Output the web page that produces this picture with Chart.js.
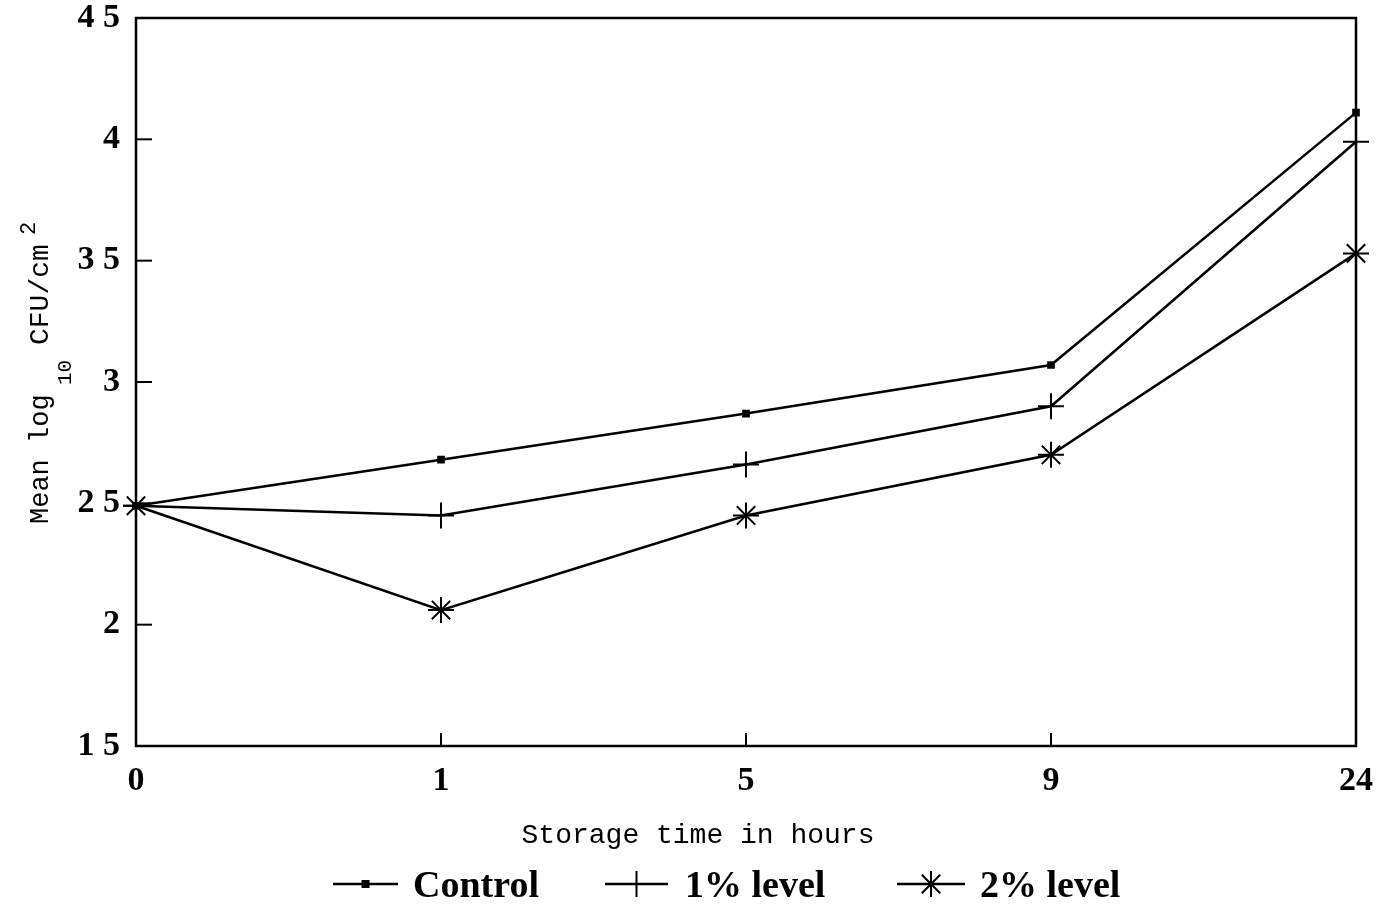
<!DOCTYPE html>
<html>
<head>
<meta charset="utf-8">
<script src="https://cdn.jsdelivr.net/npm/chart.js@4.4.1/dist/chart.umd.min.js"></script>
<style>
  body { margin: 0; background: #fff; }
  canvas { display: block; }
</style>
</head>
<body>
<canvas id="grafico" width="1388" height="905"></canvas>
<script>
const horas = ['0', '1', '5', '9', '24']
const controle = [2.49, 2.68, 2.87, 3.07, 4.11]
const nivel1 = [2.49, 2.45, 2.66, 2.90, 3.99]
const nivel2 = [2.49, 2.06, 2.45, 2.70, 3.53]
const legendas = ['Control', '1% level', '2% level']

const fonteMono = '"Liberation Mono", "Courier New", monospace'

function desenharMarcador(ctx, tipo, x, y) {
  ctx.save()
  ctx.strokeStyle = '#000'
  ctx.fillStyle = '#000'
  ctx.lineWidth = 2
  if (tipo === 'rect') {
    ctx.fillRect(x - 4, y - 4, 8, 8)
  } else {
    Chart.helpers.drawPoint(ctx, { pointStyle: tipo, radius: 13, borderWidth: 2 }, x, y)
  }
  ctx.restore()
}

const extras = {
  id: 'extras',
  afterDraw(chart) {
    const ctx = chart.ctx
    const area = chart.chartArea
    const x = chart.scales.x
    const y = chart.scales.y
    ctx.save()
    ctx.strokeStyle = '#000'
    ctx.lineWidth = 2.5
    ctx.strokeRect(area.left, area.top, area.right - area.left, area.bottom - area.top)

    // marcas internas
    ctx.lineWidth = 2
    y.ticks.forEach(t => {
      if (t.value <= 1.5 || t.value >= 4.5) return
      const py = y.getPixelForValue(t.value)
      ctx.beginPath()
      ctx.moveTo(area.left, py)
      ctx.lineTo(area.left + 16, py)
      ctx.stroke()
    })
    for (let i = 1; i < horas.length - 1; i++) {
      const px = x.getPixelForValue(i)
      ctx.beginPath()
      ctx.moveTo(px, area.bottom)
      ctx.lineTo(px, area.bottom - 13)
      ctx.stroke()
    }

    // titulo do eixo x
    ctx.fillStyle = '#000'
    ctx.font = '28px ' + fonteMono
    ctx.textAlign = 'center'
    ctx.textBaseline = 'alphabetic'
    ctx.fillText('Storage time in hours', 698, 843)

    // titulo do eixo y
    ctx.save()
    ctx.translate(48, 524)
    ctx.rotate(-Math.PI / 2)
    ctx.textAlign = 'left'
    ctx.font = '27px ' + fonteMono
    ctx.fillText('Mean log', 0, 0)
    ctx.font = '21px ' + fonteMono
    ctx.fillText('10', 139, 23)
    ctx.font = '28px ' + fonteMono
    ctx.fillText('CFU/cm', 179, 0)
    ctx.font = '22px ' + fonteMono
    ctx.fillText('2', 289, -13)
    ctx.restore()

    // legenda
    const itens = [
      { tipo: 'rect', x0: 333, x1: 398, tx: 413 },
      { tipo: 'cross', x0: 605, x1: 668, tx: 685 },
      { tipo: 'star', x0: 897, x1: 965, tx: 980 }
    ]
    ctx.font = 'bold 38px "Liberation Serif"'
    ctx.textAlign = 'left'
    ctx.textBaseline = 'middle'
    itens.forEach((item, i) => {
      ctx.lineWidth = 2.5
      ctx.beginPath()
      ctx.moveTo(item.x0, 884)
      ctx.lineTo(item.x1, 884)
      ctx.stroke()
      desenharMarcador(ctx, item.tipo, (item.x0 + item.x1) / 2, 884)
      ctx.fillText(legendas[i], item.tx, 887)
    })
    ctx.restore()
  }
}

function serie(rotulo, dados, estilo, raio) {
  return {
    label: rotulo,
    data: dados,
    borderColor: '#000',
    backgroundColor: '#000',
    borderWidth: 2.5,
    pointStyle: estilo,
    pointRadius: raio,
    pointBorderWidth: 2,
    pointHoverRadius: raio,
    tension: 0,
    clip: false
  }
}

const grafico = new Chart(document.getElementById('grafico'), {
  type: 'line',
  data: {
    labels: horas,
    datasets: [
      serie('Control', controle, 'rect', 4),
      serie('1% level', nivel1, 'cross', 13),
      serie('2% level', nivel2, 'star', 13)
    ]
  },
  options: {
    responsive: false,
    animation: false,
    layout: { autoPadding: false, padding: { top: 18, right: 32, left: 0, bottom: 0 } },
    plugins: { legend: { display: false }, tooltip: { enabled: false } },
    scales: {
      x: {
        offset: false,
        grid: { display: false, drawTicks: false },
        border: { display: false },
        ticks: { color: '#000', font: { family: 'Liberation Serif', size: 34, weight: 'bold', lineHeight: 1 }, padding: 18, maxRotation: 0 },
        afterFit: s => {
          s.height = 159
          s.paddingLeft = 0
          s.paddingRight = 0
        }
      },
      y: {
        min: 1.5,
        max: 4.5,
        grid: { display: false, drawTicks: false },
        border: { display: false },
        ticks: {
          stepSize: 0.5,
          color: '#000',
          font: { family: 'Liberation Serif', size: 34, weight: 'bold', lineHeight: 1 },
          padding: 16,
          callback: v => String(v).replace('.', ' ')
        },
        afterFit: s => {
          s.width = 136
          s.paddingTop = 0
          s.paddingBottom = 0
        }
      }
    }
  },
  plugins: [extras]
})
</script>
</body>
</html>
